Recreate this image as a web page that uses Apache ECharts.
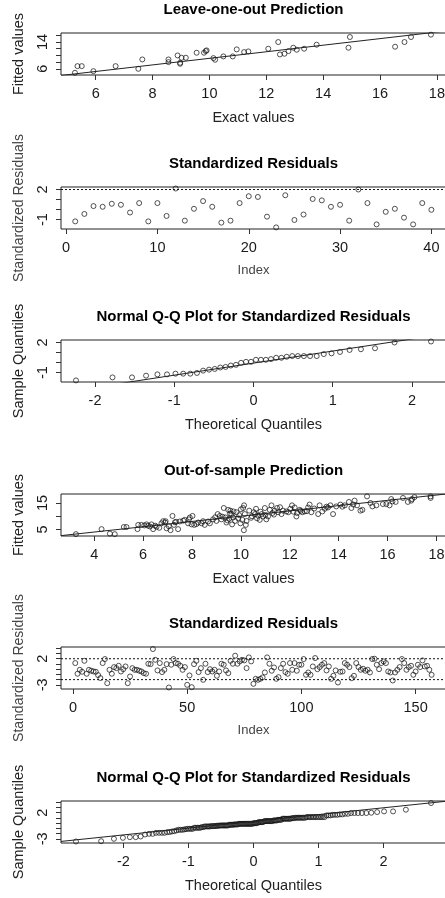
<!DOCTYPE html>
<html>
<head>
<meta charset="utf-8">
<script src="https://cdn.jsdelivr.net/npm/echarts@6/dist/echarts.min.js"></script>
<style>
  html, body { margin: 0; padding: 0; overflow: hidden; background: #fff; }
  #chart { width: 448px; height: 898px; }
</style>
</head>
<body>
<div id="chart"></div>
<script>
// ---- Leave-one-out fit (40 observations) ----
const looExact = [5.27, 5.36, 5.51, 5.92, 6.70, 7.50, 7.64, 8.56, 8.56, 8.88,
  8.97, 8.97, 9.02, 9.17, 9.55, 9.81, 9.87, 9.90, 10.14, 10.20,
  10.49, 10.82, 10.96, 11.22, 11.37, 12.07, 12.42, 12.48, 12.64, 12.78,
  12.95, 13.07, 13.33, 13.77, 14.89, 14.94, 16.53, 16.86, 17.09, 17.79];
const looFitted = [4.81, 6.8, 6.8, 5.3, 6.8, 6.0, 8.8, 8.8, 8.0, 10.0,
  7.8, 7.5, 9.3, 9.3, 10.8, 10.8, 11.3, 11.5, 9.2, 8.7,
  9.7, 9.7, 11.8, 11.0, 11.2, 12.0, 14.0, 10.3, 10.5, 11.3,
  12.3, 11.7, 12.0, 13.2, 12.3, 15.5, 12.6, 14.0, 15.5, 16.2];
const looFitLine = { intercept: -0.69, slope: 0.982 };

const looResid = [-1.17, -0.43, 0.35, 0.28, 0.58, 0.48, -0.29, 0.65, -1.17, 0.65,
  -0.63, 2.1, -1.1, 0.08, 0.85, 0.28, -1.3, -1.1, 0.65, 1.33,
  1.26, -0.7, -1.77, 1.43, -1.03, -0.49, 1.06, 0.92, 0.28, 0.48,
  -1.1, 2.0, 0.65, -1.47, -0.22, 0.08, -0.8, -1.47, 0.65, -0.02];

const looQqTheory = [-2.241, -1.780, -1.534, -1.356, -1.213, -1.092, -0.985, -0.887, -0.798, -0.714,
  -0.636, -0.561, -0.489, -0.419, -0.352, -0.286, -0.221, -0.157, -0.094, -0.031,
  0.031, 0.094, 0.157, 0.221, 0.286, 0.352, 0.419, 0.489, 0.561, 0.636,
  0.714, 0.798, 0.887, 0.985, 1.092, 1.213, 1.356, 1.534, 1.780, 2.241];
const looQqSample = [-1.77, -1.47, -1.47, -1.3, -1.17, -1.17, -1.1, -1.1, -1.1, -1.03,
  -0.8, -0.7, -0.63, -0.49, -0.43, -0.29, -0.22, -0.02, 0.08, 0.08,
  0.28, 0.28, 0.28, 0.35, 0.48, 0.48, 0.58, 0.65, 0.65, 0.65,
  0.65, 0.65, 0.85, 0.92, 1.06, 1.26, 1.33, 1.43, 2.0, 2.1];
const looQqLine = { intercept: -0.05, slope: 1.2 };

// ---- Out-of-sample fit (157 observations) ----
const oosExact = [3.25, 4.3, 4.64, 4.84, 5.21, 5.32, 5.77, 5.8, 5.93, 6.14,
  6.2, 6.34, 6.41, 6.49, 6.66, 6.75, 6.82, 6.92, 6.96, 7.12,
  7.2, 7.26, 7.3, 7.43, 7.5, 7.64, 7.84, 7.87, 7.91, 7.98,
  8.02, 8.09, 8.18, 8.39, 8.52, 8.66, 8.73, 8.86, 9.0, 9.14,
  9.2, 9.3, 9.37, 9.41, 9.48, 9.52, 9.57, 9.61, 9.64, 9.68,
  9.76, 9.82, 9.89, 9.98, 10.06, 10.09, 10.13, 10.16, 10.12, 10.2,
  10.23, 10.34, 10.53, 10.58, 10.66, 10.7, 10.77, 10.85, 10.91, 10.98,
  11.04, 11.11, 11.18, 11.25, 11.29, 11.38, 11.48, 11.52, 11.66, 11.72,
  11.86, 11.94, 12.02, 12.09, 12.2, 12.27, 12.3, 12.41, 12.51, 12.61,
  12.75, 12.81, 12.88, 13.16, 13.22, 13.33, 13.43, 13.56, 13.66, 13.77,
  13.9, 14.07, 14.25, 14.42, 14.52, 14.65, 14.75, 14.89, 14.97, 15.16,
  15.38, 15.54, 15.81, 15.95, 16.08, 16.15, 16.33, 16.63, 16.83, 16.97,
  17.1, 17.76, 17.76, 6.05, 6.28, 6.55, 6.9, 7.05, 7.35, 7.7,
  8.25, 8.45, 8.95, 9.05, 9.25, 9.45, 9.7, 9.93, 10.0, 10.42,
  10.62, 10.8, 11.0, 11.35, 11.6, 12.15, 12.45, 12.7, 13.0, 13.5,
  14.15, 14.6, 15.3, 16.2, 17.0, 9.55, 10.45];
const oosFitted = [3.2, 5.1, 3.4, 3.2, 5.9, 5.9, 5.1, 6.7, 6.7, 6.9,
  6.4, 6.9, 5.1, 6.4, 5.6, 7.3, 8.1, 8.1, 5.4, 4.7,
  10.1, 6.7, 7.7, 5.1, 8.0, 8.3, 7.3, 8.8, 9.5, 6.9,
  10.1, 6.7, 7.0, 7.3, 6.7, 8.0, 7.3, 8.8, 8.2, 10.1,
  8.8, 13.1, 9.5, 7.6, 12.4, 9.0, 12.1, 10.8, 6.9, 9.5,
  8.2, 11.5, 9.2, 7.3, 8.6, 13.1, 14.1, 10.8, 4.7, 6.7,
  8.2, 12.1, 11.5, 10.8, 9.2, 10.2, 8.6, 10.8, 9.9, 13.1,
  8.8, 9.9, 12.4, 14.1, 11.2, 12.1, 13.1, 11.5, 10.8, 12.1,
  11.8, 11.5, 12.8, 14.1, 13.3, 9.9, 11.2, 12.4, 11.5, 11.8,
  13.3, 14.4, 11.5, 10.8, 14.1, 11.8, 12.8, 13.3, 14.1, 10.8,
  13.7, 14.4, 14.1, 15.4, 13.1, 15.9, 14.1, 12.1, 12.4, 17.5,
  13.7, 14.1, 14.6, 14.6, 14.1, 16.5, 15.4, 16.9, 15.4, 15.9,
  17.2, 17.5, 16.9, 6.5, 6.1, 6.0, 7.6, 6.2, 7.9, 8.6,
  7.6, 8.1, 9.6, 10.8, 9.8, 8.4, 11.8, 10.4, 12.6, 9.4,
  12.8, 11.7, 10.5, 10.6, 13.4, 11.7, 12.0, 11.9, 12.9, 13.6,
  13.6, 14.4, 15.0, 15.6, 16.5, 11.0, 10.0];
const oosFitLine = { intercept: 0.0, slope: 1.0 };

const oosResid = [1.17, -0.88, -0.12, -0.5, 1.6, -0.88, -0.12, -0.3, -0.44, -0.5,
  -1.14, -1.7, 1.17, 1.94, -2.68, -0.12, -0.88, 0.4, 0.2, 0.65,
  -0.44, 0, 0.52, -2.68, -1.4, 0.2, -0.12, -0.12, -0.3, -0.44,
  -0.76, -0.88, 1.04, 0.97, 3.86, 1.8, -0.24, 1.17, -0.56, -0.12,
  0.97, -3.51, 0.85, 1.94, 1.17, 1.04, 0.65, -0.12, 0.4, -3.0,
  -1.2, -3.45, 0.97, 1.6, -0.56, 0.2, -2.04, 1.04, -0.56, 0,
  -0.44, -0.12, -1.27, -0.44, 1.04, 0.85, -0.24, -0.76, 1.6, 1.04,
  2.58, 1.04, 1.49, 1.8, 1.68, 0.2, 2.26, 1.49, -2.81, -1.85,
  -2.04, -1.85, -1.59, -0.63, 2.26, 1.04, -0.3, 0.33, -1.85, -1.53,
  0.2, 1.04, -0.56, -0.88, 1.17, -0.12, 1.17, -0.3, 0.85, 0.85,
  1.94, -1.08, -0.63, -1.08, 0.52, 2.13, 0, 0.4, 0.85, 1.17,
  -0.24, 0.52, -1.85, -1.27, -0.24, -2.55, -0.5, -0.44, 1.17, 0.85,
  0.4, -1.72, -1.27, 1.17, 0.4, -0.12, 0.08, -0.3, -0.12, -0.63,
  1.94, 2.0, 0.85, 0, 1.17, 1.49, 1.17, -0.44, -0.63, -2.17,
  -0.63, -0.12, 0.4, 1.94, 1.17, -0.12, 0.4, 0.65, -1.08, -0.44,
  0.85, 0.4, 1.68, 0.52, 0.65, -0.12, -1.08];

const oosQqTheory = [-2.73, -2.343, -2.146, -2.008, -1.901, -1.811, -1.735, -1.667, -1.606, -1.551,
  -1.500, -1.452, -1.408, -1.366, -1.327, -1.289, -1.253, -1.219, -1.186, -1.154,
  -1.124, -1.094, -1.066, -1.038, -1.011, -0.985, -0.959, -0.934, -0.910, -0.886,
  -0.862, -0.839, -0.817, -0.795, -0.773, -0.752, -0.731, -0.710, -0.690, -0.670,
  -0.650, -0.630, -0.611, -0.592, -0.573, -0.554, -0.536, -0.517, -0.499, -0.481,
  -0.463, -0.446, -0.428, -0.410, -0.393, -0.376, -0.359, -0.342, -0.325, -0.308,
  -0.291, -0.275, -0.258, -0.241, -0.225, -0.209, -0.192, -0.176, -0.160, -0.144,
  -0.128, -0.112, -0.096, -0.080, -0.064, -0.048, -0.032, -0.016, 0,
  0.016, 0.032, 0.048, 0.064, 0.080, 0.096, 0.112, 0.128,
  0.144, 0.160, 0.176, 0.192, 0.209, 0.225, 0.241, 0.258, 0.275, 0.291,
  0.308, 0.325, 0.342, 0.359, 0.376, 0.393, 0.410, 0.428, 0.446, 0.463,
  0.481, 0.499, 0.517, 0.536, 0.554, 0.573, 0.592, 0.611, 0.630, 0.650,
  0.670, 0.690, 0.710, 0.731, 0.752, 0.773, 0.795, 0.817, 0.839, 0.862,
  0.886, 0.910, 0.934, 0.959, 0.985, 1.011, 1.038, 1.066, 1.094, 1.124,
  1.154, 1.186, 1.219, 1.253, 1.289, 1.327, 1.366, 1.408, 1.452, 1.500,
  1.551, 1.606, 1.667, 1.735, 1.811, 1.901, 2.008, 2.146, 2.343, 2.73];
const oosQqSample = [-3.51, -3.45, -3.0, -2.81, -2.68, -2.68, -2.55, -2.17, -2.04, -2.04,
  -1.85, -1.85, -1.85, -1.85, -1.72, -1.7, -1.59, -1.53, -1.4, -1.27,
  -1.27, -1.27, -1.2, -1.14, -1.08, -1.08, -1.08, -1.08, -0.88, -0.88,
  -0.88, -0.88, -0.88, -0.76, -0.76, -0.63, -0.63, -0.63, -0.63, -0.63,
  -0.56, -0.56, -0.56, -0.56, -0.5, -0.5, -0.5, -0.44, -0.44, -0.44,
  -0.44, -0.44, -0.44, -0.44, -0.44, -0.3, -0.3, -0.3, -0.3, -0.3,
  -0.24, -0.24, -0.24, -0.24, -0.12, -0.12, -0.12, -0.12, -0.12, -0.12,
  -0.12, -0.12, -0.12, -0.12, -0.12, -0.12, -0.12, -0.12, 0, 0,
  0, 0, 0.08, 0.2, 0.2, 0.2, 0.2, 0.2, 0.33, 0.4,
  0.4, 0.4, 0.4, 0.4, 0.4, 0.4, 0.4, 0.52, 0.52, 0.52,
  0.52, 0.65, 0.65, 0.65, 0.65, 0.85, 0.85, 0.85, 0.85, 0.85,
  0.85, 0.85, 0.85, 0.97, 0.97, 0.97, 1.04, 1.04, 1.04, 1.04,
  1.04, 1.04, 1.04, 1.04, 1.17, 1.17, 1.17, 1.17, 1.17, 1.17,
  1.17, 1.17, 1.17, 1.17, 1.17, 1.17, 1.49, 1.49, 1.49, 1.6,
  1.6, 1.6, 1.68, 1.68, 1.8, 1.8, 1.94, 1.94, 1.94, 1.94,
  1.94, 2.0, 2.13, 2.26, 2.26, 2.58, 3.86];
const oosQqLine = { intercept: 0.35, slope: 1.3 };

// dotted guide levels on the residual panels
const residGuides = [2, -2];

// ---- tick positions and printed tick labels ----
const p1XTicks = [6, 8, 10, 12, 14, 16, 18];
const p1YTicks = [6, 8, 10, 12, 14, 16], p1YLabels = [6, 14];
const p2XTicks = [0, 10, 20, 30, 40];
const p23YTicks = [-1, 0, 1, 2], p23YLabels = [-1, 2];
const p3XTicks = [-2, -1, 0, 1, 2];
const p4XTicks = [4, 6, 8, 10, 12, 14, 16, 18];
const p4YTicks = [5, 10, 15], p4YLabels = [5, 15];
const p5XTicks = [0, 50, 100, 150];
const p56YTicks = [-3, -2, -1, 0, 1, 2, 3, 4], p56YLabels = [-3, 2];
const p6XTicks = [-2, -1, 0, 1, 2];

const FONT = '"Liberation Sans", Arial, sans-serif';
const BOX_LEFT = 61, BOX_RIGHT = 2, BOX_H = 42;

const zip = (xs, ys) => xs.map((x, i) => [x, ys[i]]);
const indexed = ys => ys.map((y, i) => [i + 1, y]);

const panels = [
  { top: 33, title: 'Leave-one-out Prediction', xName: 'Exact values', yName: 'Fitted values',
    x: [4.78, 18.32], y: [4.15, 16.7], xTicks: p1XTicks, xLabels: p1XTicks, yTicks: p1YTicks, yLabels: p1YLabels,
    points: zip(looExact, looFitted), line: looFitLine, guides: [] },
  { top: 187, title: 'Standardized Residuals', xName: 'Index', yName: 'Standardized Residuals', soft: true,
    x: [-0.56, 41.6], y: [-1.93, 2.25], xTicks: p2XTicks, xLabels: p2XTicks, yTicks: p23YTicks, yLabels: p23YLabels,
    points: indexed(looResid), line: null, guides: residGuides },
  { top: 340, title: 'Normal Q-Q Plot for Standardized Residuals', xName: 'Theoretical Quantiles', yName: 'Sample Quantiles',
    x: [-2.43, 2.43], y: [-1.93, 2.25], xTicks: p3XTicks, xLabels: p3XTicks, yTicks: p23YTicks, yLabels: p23YLabels,
    points: zip(looQqTheory, looQqSample), line: looQqLine, guides: [] },
  { top: 494, title: 'Out-of-sample Prediction', xName: 'Exact values', yName: 'Fitted values',
    x: [2.64, 18.39], y: [2.5, 18.4], xTicks: p4XTicks, xLabels: p4XTicks, yTicks: p4YTicks, yLabels: p4YLabels,
    points: zip(oosExact, oosFitted), line: oosFitLine, guides: [] },
  { top: 647, title: 'Standardized Residuals', xName: 'Index', yName: 'Standardized Residuals', soft: true,
    x: [-5.24, 163.3], y: [-3.8, 4.25], xTicks: p5XTicks, xLabels: p5XTicks, yTicks: p56YTicks, yLabels: p56YLabels,
    points: indexed(oosResid), line: null, guides: residGuides },
  { top: 801, title: 'Normal Q-Q Plot for Standardized Residuals', xName: 'Theoretical Quantiles', yName: 'Sample Quantiles',
    x: [-2.96, 2.96], y: [-3.8, 4.25], xTicks: p6XTicks, xLabels: p6XTicks, yTicks: p56YTicks, yLabels: p56YLabels,
    points: zip(oosQqTheory, oosQqSample), line: oosQqLine, guides: [] }
];

const option = {
  animation: false,
  backgroundColor: '#fff',
  title: [], grid: [], xAxis: [], yAxis: [], series: []
};

panels.forEach((p, i) => {
  const nameColor = p.soft ? '#444' : '#222';
  option.title.push({
    text: p.title, left: (BOX_LEFT + 448 - BOX_RIGHT) / 2, top: p.top - 31, textAlign: 'center', padding: 0,
    textStyle: { fontFamily: FONT, fontSize: 15, fontWeight: 'bold', color: '#000' }
  });
  option.grid.push({
    left: BOX_LEFT, right: BOX_RIGHT, top: p.top, height: BOX_H,
    show: true, borderColor: '#222', borderWidth: 1, backgroundColor: 'transparent'
  });
  option.xAxis.push({
    type: 'value', gridIndex: i, min: p.x[0], max: p.x[1],
    axisLine: { show: false, onZero: false }, splitLine: { show: false },
    axisTick: { show: true, inside: false, length: 5, customValues: p.xTicks, lineStyle: { color: '#333', width: 1 } },
    axisLabel: { customValues: p.xLabels, margin: 11, fontFamily: FONT, fontSize: 14.5, color: '#1a1a1a' },
    name: p.xName, nameLocation: 'middle', nameGap: 35,
    nameTextStyle: { fontFamily: FONT, fontSize: p.soft ? 13 : 14.5, color: nameColor }
  });
  option.yAxis.push({
    type: 'value', gridIndex: i, min: p.y[0], max: p.y[1],
    axisLine: { show: false, onZero: false }, splitLine: { show: false },
    axisTick: { show: true, inside: false, length: 5, customValues: p.yTicks, lineStyle: { color: '#333', width: 1 } },
    axisLabel: { customValues: p.yLabels, rotate: 90, margin: 11, fontFamily: FONT, fontSize: 14.5, color: '#1a1a1a' },
    name: p.yName, nameLocation: 'middle', nameGap: 35,
    nameTextStyle: { fontFamily: FONT, fontSize: p.soft ? 14 : 14.5, color: nameColor }
  });
  option.series.push({
    type: 'scatter', xAxisIndex: i, yAxisIndex: i, data: p.points,
    symbol: 'circle', symbolSize: 5, silent: true,
    itemStyle: { color: 'rgba(0,0,0,0)', borderColor: '#111', borderWidth: 0.9 }
  });
  if (p.line) {
    const a = p.line.intercept, b = p.line.slope;
    option.series.push({
      type: 'line', xAxisIndex: i, yAxisIndex: i, symbol: 'none', silent: true, clip: true,
      data: [[p.x[0], a + b * p.x[0]], [p.x[1], a + b * p.x[1]]],
      lineStyle: { color: '#222', width: 1 }
    });
  }
  // only guide levels that fall inside this panel's value range are drawn
  p.guides.filter(g => g > p.y[0] && g < p.y[1]).forEach(g => {
    option.series.push({
      type: 'line', xAxisIndex: i, yAxisIndex: i, symbol: 'none', silent: true, clip: true,
      data: [[p.x[0], g], [p.x[1], g]],
      lineStyle: { color: '#111', width: 1, type: [2, 2] }
    });
  });
});

const chart = echarts.init(document.getElementById('chart'), null, { renderer: 'canvas' });
chart.setOption(option);
</script>
</body>
</html>
